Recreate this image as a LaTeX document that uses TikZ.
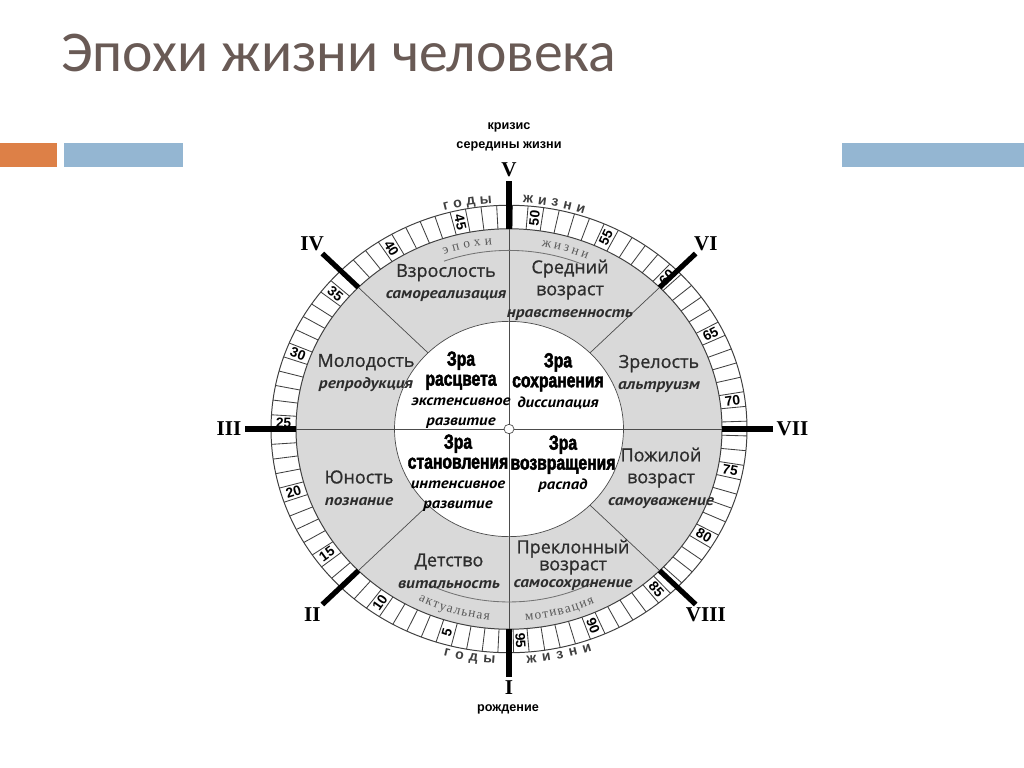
\documentclass[tikz,border=0pt]{standalone}
\usepackage{fontspec}
\setmainfont{Liberation Sans}
\newfontfamily\titlefont{Carlito}
\newfontfamily\agefont[FakeBold=0.9]{Open Sans}
\newfontfamily\notefont[FakeStretch=1.12]{PT Sans}
\newfontfamily\erafont[FakeStretch=0.77, BoldFeatures={FakeBold=2.2}]{Liberation Sans}
\newfontfamily\numeralfont{Liberation Serif}
\newfontfamily\arcserif{Liberation Serif}
\usetikzlibrary{decorations.text}

\definecolor{slidetitle}{RGB}{105,90,85}
\definecolor{barorange}{RGB}{221,128,71}
\definecolor{barblue}{RGB}{148,182,210}
\definecolor{zonegray}{RGB}{217,217,217}
\definecolor{inkgray}{RGB}{45,45,45}

\newcommand\agenote[1]{{\notefont\bfseries\itshape\fontsize{11}{15.6}\selectfont #1}}
\newcommand\eranote[1]{{\notefont\bfseries\itshape\fontsize{10.6}{14.2}\selectfont #1}}
\newcommand\outerword{\bfseries\fontsize{10}{12}\selectfont\color{black!75}}
\newcommand\innerword{\arcserif\fontsize{9.5}{11}\selectfont\color{black!65}}

\begin{document}
\begin{tikzpicture}[x=0.25mm, y=-0.25mm,
    agename/.style={align=center, inner sep=0pt, text=inkgray,
      font=\agefont\fontsize{12.8}{15.6}\selectfont},
    eraname/.style={align=center, inner sep=0pt,
      font=\erafont\bfseries\fontsize{14.5}{14.2}\selectfont},
    numeral/.style={inner sep=1pt, font=\numeralfont\bfseries\fontsize{15}{15}\selectfont},
    yearnum/.style={inner sep=0pt, font=\bfseries\fontsize{9.8}{9.8}\selectfont},
    ringline/.style={draw=black!75, line width=0.7pt},
    zoneline/.style={draw=black!70, line width=0.5pt},
    tickbar/.style={line width=1.3mm},
    arcline/.style={draw=black!55, line width=0.6pt}]
  \fill[white] (0,0) rectangle (1024,767);
  \useasboundingbox (0,0) rectangle (1024,767);

  % slide title and bars
  \node[anchor=base west, inner sep=0pt, text=slidetitle,
    font=\titlefont\fontsize{41}{48}\selectfont] (title) at (61,72) {Эпохи жизни человека};
  \fill[barorange] (0,143) rectangle (57,167);
  \fill[barblue] (64,143) rectangle (183,167);
  \fill[barblue] (842,143) rectangle (1024,167);

  \node[align=center, inner sep=0pt, font=\bfseries\fontsize{9}{13.5}\selectfont] (crisis) at (509,137) {кризис\\середины жизни};
  \node[inner sep=0pt, font=\bfseries\fontsize{9}{13.5}\selectfont] (birth) at (508,709) {рождение};

  % the wheel
  \begin{scope}[shift={(509,429)}, yscale=-0.94]
    \fill[zonegray] (0,0) circle[radius=213];
    \fill[white] (0,0) circle[radius=114.5];
    \draw[ringline] (0,0) circle[radius=238];
    \draw[ringline] (0,0) circle[radius=213];
    \draw[zoneline] (0,0) circle[radius=114.5];
    \foreach \ang in {45,135,225,315}
      \draw[zoneline] (\ang:114.5) -- (\ang:213);
    \draw[zoneline] (90:213) -- (270:213);
    \draw[zoneline] (180:213) -- (0:213);
    \draw[zoneline, fill=white] (0,0) circle[radius=5];

    % year cells
    \foreach \m [evaluate=\m as \a using -88.895-3.79*\m] in {0,...,94}
      \draw[ringline, line width=0.6pt] (\a:213) -- (\a:238);
    \foreach \n [evaluate=\n as \a using -87-3.79*\n] in {5,10,...,95} {
      \pgfmathsetmacro\rot{cos(\a)>0 ? \a : \a+180}
      \node[yearnum, rotate=\rot] (y\n) at (\a:225.5) {\n};
    }

    % stages
    \foreach \ang/\num in {270/I,225/II,180/III,135/IV,90/V,45/VI,0/VII,315/VIII} {
      \draw[tickbar] (\ang:213) -- (\ang:264);
      \pgfmathsetmacro\opp{mod(\ang+180,360)}
      \node[numeral, anchor=\opp] (st\num) at (\ang:266) {\num};
    }

    % words on the ring
    \path[decorate, decoration={text along path, text={|\outerword|годы}, text align={fit to path}}]
      (105.6:241) arc[start angle=105.6, end angle=94, radius=241];
    \path[decorate, decoration={text along path, text={|\outerword|жизни}, text align={fit to path}}]
      (86.7:241) arc[start angle=86.7, end angle=71.9, radius=241];
    \path[decorate, decoration={text along path, text={|\outerword|годы}, text align={fit to path}}]
      (254.8:250) arc[start angle=254.8, end angle=266.8, radius=250];
    \path[decorate, decoration={text along path, text={|\outerword|жизни}, text align={fit to path}}]
      (274.1:250) arc[start angle=274.1, end angle=289.4, radius=250];

    \draw[arcline] (110:190) arc[start angle=110, end angle=67, radius=190];
    \draw[arcline] (244:184) arc[start angle=244, end angle=297, radius=184];
    \path[decorate, decoration={text along path, text={|\innerword|эпохи}, text align={fit to path}}]
      (109.3:197) arc[start angle=109.3, end angle=94.9, radius=197];
    \path[decorate, decoration={text along path, text={|\innerword|жизни}, text align={fit to path}}]
      (80.5:197) arc[start angle=80.5, end angle=66.7, radius=197];
    \path[decorate, decoration={text along path, text={|\innerword|актуальная}, text align={fit to path}}]
      (243.6:204) arc[start angle=243.6, end angle=264.5, radius=204];
    \path[decorate, decoration={text along path, text={|\innerword|мотивация}, text align={fit to path}}]
      (274.6:204) arc[start angle=274.6, end angle=294.8, radius=204];
  \end{scope}

  % ages
  \node[agename] (adult) at (446,283) {Взрослость\\\agenote{самореализация}};
  \node[agename] (middle) at (570,290) {Средний\\возраст\\\agenote{нравственность}};
  \node[agename] (youth) at (366,373) {Молодость\\\agenote{репродукция}};
  \node[agename] (mature) at (659,374) {Зрелость\\\agenote{альтруизм}};
  \node[agename] (teen) at (359,488) {Юность\\\agenote{познание}};
  \node[agename] (elderly) at (661,478) {Пожилой\\возраст\\\agenote{самоуважение}};
  \node[agename] (child) at (449,571) {Детство\\\agenote{витальность}};
  \node[agename] (declining) at (573,565) {Преклонный\\[-3.5pt]возраст\\[-3.5pt]\agenote{самосохранение}};

  % eras
  \node[eraname] (bloom) at (461,390) {Зра\\расцвета\\\eranote{экстенсивное}\\\eranote{развитие}};
  \node[eraname] (keeping) at (558,381) {Зра\\сохранения\\\eranote{диссипация}};
  \node[eraname] (forming) at (458,473) {Зра\\становления\\\eranote{интенсивное}\\\eranote{развитие}};
  \node[eraname] (return) at (563,464) {Зра\\возвращения\\\eranote{распад}};
\end{tikzpicture}
\end{document}
